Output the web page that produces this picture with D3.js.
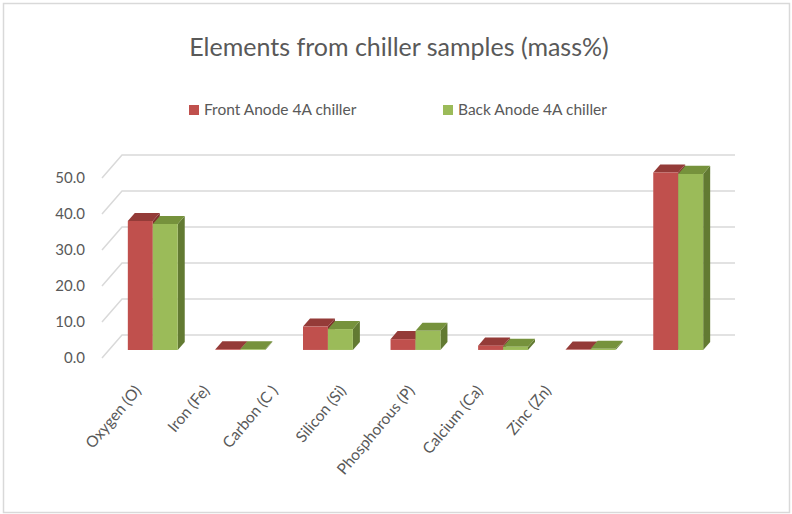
<!DOCTYPE html>
<html><head><meta charset="utf-8">
<script src="https://cdn.jsdelivr.net/npm/d3@7"></script>
<style>
html,body{margin:0;padding:0;background:#fff;}
svg{display:block;font-family:Lato, "Open Sans", sans-serif;}
</style></head>
<body>
<svg id="chart" width="792" height="514"></svg>
<script>
const categories = ["Oxygen (O)","Iron (Fe)","Carbon (C )","Silicon (Si)","Phosphorous (P)","Calcium (Ca)","Zinc (Zn)"];
const seriesNames = ["Front  Anode 4A chiller","Back Anode 4A chiller"];
const frontValues = [35.8, 0.2, 6.5, 3.0, 1.2, 0.1, 49.3];
const backValues  = [35.0, 0.2, 5.8, 5.3, 0.9, 0.3, 48.9];
const yTicks = [0,10,20,30,40,50];
const title = "Elements from chiller samples (mass%)";

const colors = {
  front:["#C0504D","#9BBB59"],
  top:["#943B38","#76923C"],
  side:["#7E2F2C","#627A32"]
};

const svg = d3.select("#chart");
svg.append("rect").attr("x",3.5).attr("y",3.5).attr("width",786).attr("height",509)
  .attr("fill","#fff").attr("stroke","#d9d9d9").attr("stroke-width",1.5);

// oblique 3D geometry
const floorFrontY = 358, floorLeftX = 102, floorRightX = 715;
const depth = {dx:20, dy:-23};
const fFront = 0.35, fBack = 0.70;

const y = d3.scaleLinear().domain([0,50]).range([0,180]); // height in px
const x = d3.scaleBand().domain(categories).range([floorLeftX, floorRightX]).paddingInner(0.43).paddingOuter(0.215);
const xs = d3.scaleBand().domain([0,1]).range([0, x.bandwidth()]);
const xl = d3.scalePoint().domain(categories).range([142, 552]);

function pt(xf, f, v){ return [xf + f*depth.dx, floorFrontY + f*depth.dy - y(v)]; }

// back wall gridlines & left diagonal lines
const g = svg.append("g");
yTicks.forEach(t=>{
  const a = pt(floorLeftX,0,t), b = pt(floorLeftX,1,t), c = pt(floorRightX,1,t);
  g.append("path").attr("d", d3.line()([a,b,c])).attr("fill","none")
    .attr("stroke","#d9d9d9").attr("stroke-width",1.5);
});

// y labels
svg.append("g").selectAll("text").data(yTicks).join("text")
  .attr("x",85).attr("y",d=>pt(floorLeftX,0,d)[1]).attr("dy","0.35em")
  .attr("text-anchor","end").attr("font-size",15).attr("fill","#595959")
  .text(d=>d3.format(".1f")(d));

// bars
const bars = svg.append("g");
categories.forEach((cat,i)=>{
  [frontValues[i], backValues[i]].forEach((v,s)=>{
    const x0 = x(cat) + xs(s), x1 = x0 + xs.bandwidth();
    const fl = pt(x0,fFront,0), fr = pt(x1,fFront,0), tl = pt(x0,fFront,v), tr = pt(x1,fFront,v);
    const btl = pt(x0,fBack,v), btr = pt(x1,fBack,v), brb = pt(x1,fBack,0);
    bars.append("path").attr("d", d3.line()([fr,tr,btr,brb])+"Z").attr("fill",colors.side[s]);
    bars.append("path").attr("d", d3.line()([tl,tr,btr,btl])+"Z").attr("fill",colors.top[s]);
    bars.append("path").attr("d", d3.line()([fl,fr,tr,tl])+"Z").attr("fill",colors.front[s]);
  });
});

// x labels
svg.append("g").selectAll("text").data(categories).join("text")
  .attr("transform",d=>`translate(${xl(d)},391) rotate(-50)`)
  .attr("text-anchor","end").attr("font-size",15.5).attr("fill","#595959")
  .text(d=>d);

// title
svg.append("text").attr("x",399).attr("y",56).attr("text-anchor","middle")
  .attr("font-size",25).attr("fill","#595959").text(title);

// legend
const legX = [189,443];
seriesNames.forEach((n,s)=>{
  svg.append("rect").attr("x",legX[s]).attr("y",105).attr("width",10).attr("height",10).attr("fill",colors.front[s]);
  svg.append("text").attr("x",legX[s]+15).attr("y",110).attr("dy","0.35em")
    .attr("font-size",15.5).attr("fill","#595959").text(n);
});
</script>
</body></html>
